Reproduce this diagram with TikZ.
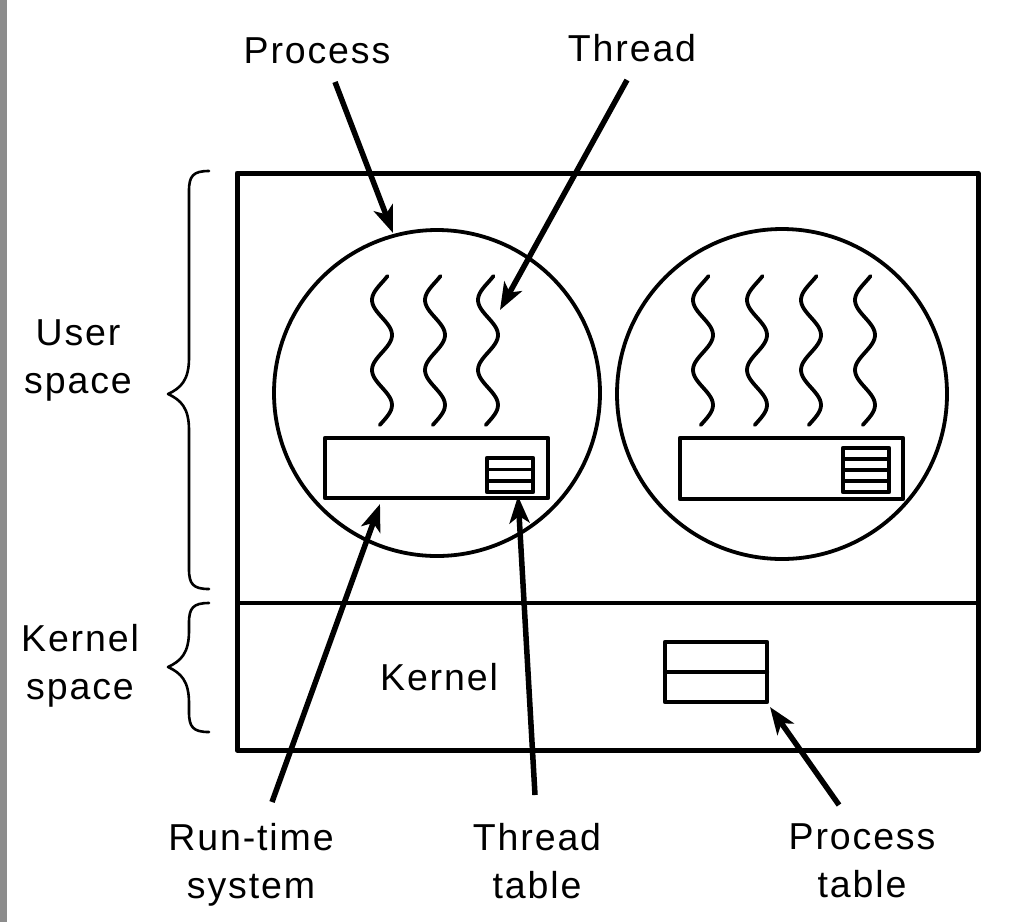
\documentclass[tikz,border=0pt]{standalone}
\usepackage{fontspec}
\setmainfont{Liberation Sans}[LetterSpace=5]
\usetikzlibrary{arrows.meta}

\begin{document}
\begin{tikzpicture}[x=1pt, y=-1pt, line cap=round, line join=round,
    lbl/.style={font=\fontsize{37.5}{48}\selectfont, align=center, inner sep=0pt, anchor=north},
    ptr/.style={line width=5.5pt, line cap=butt, -{Stealth[length=27pt,width=20pt,inset=7pt]}},
    brc/.style={line width=2.6pt},
    bx/.style={line width=4.2pt}]
    \useasboundingbox (0,0) rectangle (1032,922);
    \fill[black!45] (0,0) rectangle (7,922);
    % user and kernel space
    \draw[line width=5pt, line cap=butt] (237,173) rectangle (978,750);
    \draw[line width=4pt] (237,603) -- (978,603);
    \foreach \t/\m/\b in {171/394/589, 603/667/732} {
      \draw[brc] (209,\t) .. controls (193,\t) and (189,\t+5) .. (189,\t+20) -- (189,\m-36)
        .. controls (189,\m-14) and (181,\m-6) .. (168,\m) .. controls (181,\m+6) and (189,\m+14) .. (189,\m+36)
        -- (189,\b-20) .. controls (189,\b-5) and (193,\b) .. (209,\b);
    }
    % processes
    \draw[line width=3.8pt] (437,393) circle (163);
    \draw[line width=3.8pt] (782,394) circle (165);
    \foreach \cx in {382,435,488,703,757,811,865} {
      \draw[line width=3.8pt] plot[domain=276:425, samples=60, smooth] ({\cx+10*sin(5.142857*(\x-317.5))}, \x);
    }
    % run-time systems with thread tables
    \draw[bx] (325,438) rectangle (548,498);
    \draw[bx] (680,438) rectangle (903,499);
    \draw[bx] (487,458) rectangle (533,492);
    \foreach \y in {469.5,481} { \draw[line width=3.4pt] (487,\y) -- (533,\y); }
    \draw[bx] (843,448) rectangle (889,492);
    \foreach \y in {459,470,481} { \draw[line width=3.4pt] (843,\y) -- (889,\y); }
    % process table
    \draw[bx] (665,642) rectangle (767,702);
    \draw[bx] (665,672) -- (767,672);
    % labels
    \node[lbl] (proc) at (317,37) {Process};
    \node[lbl] (thr) at (632,34) {Thread};
    \node[lbl] (user) at (78,319) {User\\space};
    \node[lbl] (kspace) at (80,624) {Kernel\\space};
    \node[lbl] (kern) at (439,663) {Kernel};
    \node[lbl] (rts) at (251,823) {Run-time\\system};
    \node[lbl] (ttab) at (537,823) {Thread\\table};
    \node[lbl] (ptab) at (862,823) {Process\\table};
    % pointers
    \coordinate (procS) at (335,82);  \coordinate (procT) at (393,233);
    \coordinate (thrS) at (627,80);   \coordinate (thrT) at (500,310);
    \coordinate (rtsS) at (272,802);  \coordinate (rtsT) at (380,504);
    \coordinate (ttabS) at (535,795); \coordinate (ttabT) at (518,496);
    \coordinate (ptabS) at (839,805); \coordinate (ptabT) at (770,707);
    \foreach \p in {proc,thr,rts,ttab,ptab} { \draw[ptr] (\p S) -- (\p T); }
\end{tikzpicture}
\end{document}
